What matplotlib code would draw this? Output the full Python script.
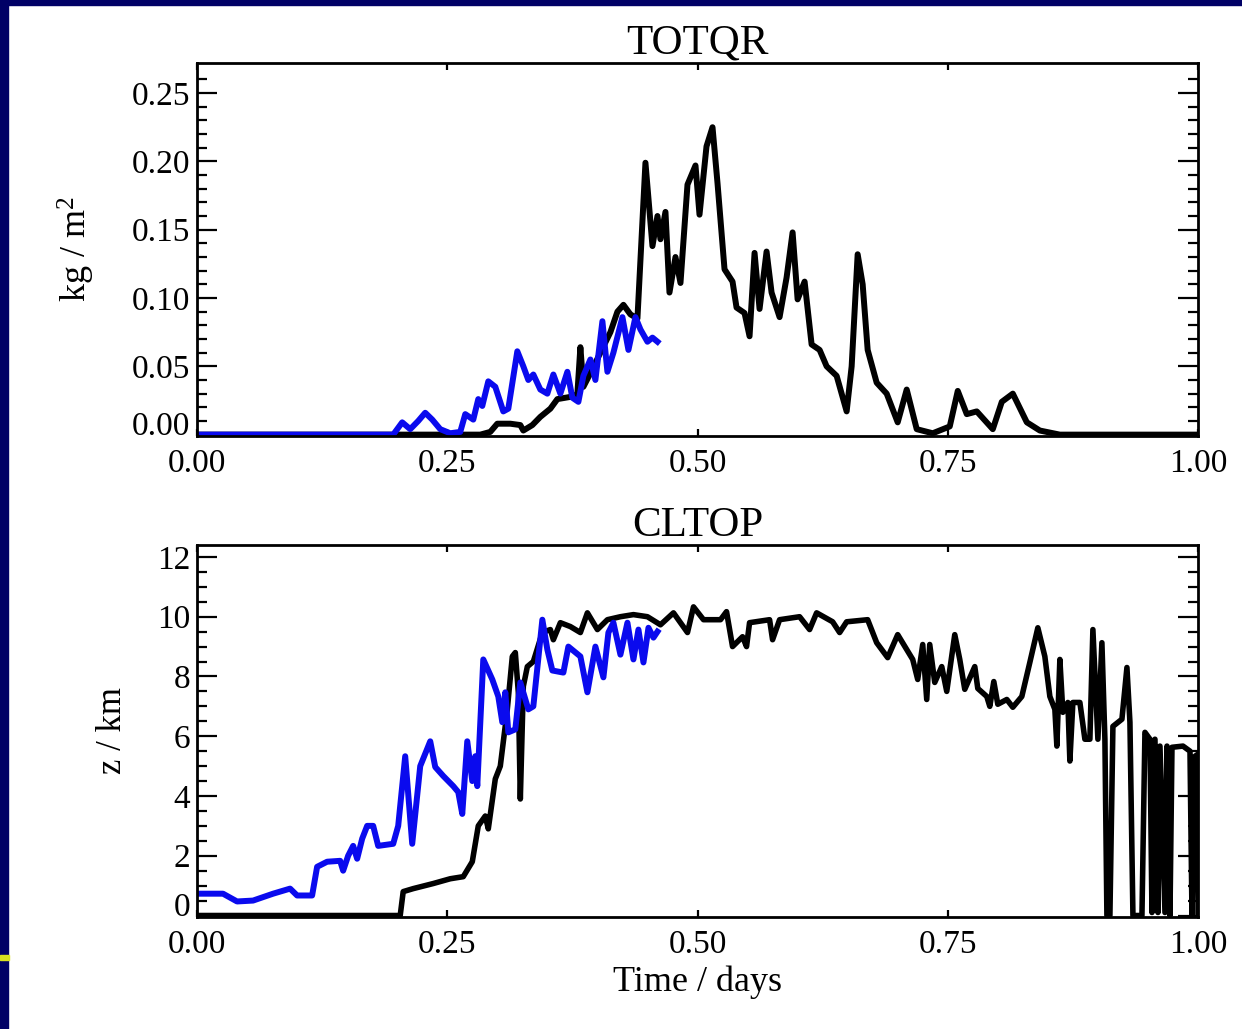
import numpy as np
import matplotlib
matplotlib.use("Agg")
import matplotlib.pyplot as plt
from matplotlib.patches import Rectangle

# time in days
qr_black_t = [0.0, 0.283, 0.293, 0.300, 0.313, 0.323, 0.326, 0.335, 0.343, 0.353, 0.360, 0.368, 0.376,
              0.380, 0.383, 0.386, 0.393, 0.403, 0.413, 0.420, 0.426, 0.433, 0.440, 0.448, 0.455, 0.460,
              0.463, 0.468, 0.472, 0.478, 0.483, 0.490, 0.498, 0.502, 0.509, 0.515, 0.520, 0.527, 0.535,
              0.539, 0.547, 0.552, 0.557, 0.562, 0.569, 0.574, 0.582, 0.589, 0.595, 0.600, 0.607, 0.614,
              0.622, 0.629, 0.639, 0.649, 0.654, 0.660, 0.665, 0.670, 0.679, 0.689, 0.700, 0.709, 0.719,
              0.735, 0.752, 0.760, 0.769, 0.779, 0.795, 0.804, 0.815, 0.829, 0.842, 0.862, 1.0]
qr_black = [0.0, 0.0, 0.002, 0.008, 0.008, 0.007, 0.003, 0.007, 0.013, 0.019, 0.026, 0.027, 0.028,
            0.030, 0.064, 0.035, 0.045, 0.060, 0.075, 0.090, 0.095, 0.088, 0.085, 0.199, 0.138, 0.160,
            0.143, 0.163, 0.104, 0.130, 0.111, 0.183, 0.197, 0.161, 0.211, 0.225, 0.184, 0.121, 0.112,
            0.093, 0.089, 0.072, 0.133, 0.092, 0.134, 0.104, 0.086, 0.115, 0.148, 0.099, 0.112, 0.066,
            0.062, 0.050, 0.043, 0.017, 0.050, 0.132, 0.110, 0.062, 0.038, 0.030, 0.009, 0.033, 0.004,
            0.001, 0.006, 0.032, 0.015, 0.017, 0.004, 0.024, 0.030, 0.009, 0.003, 0.0, 0.0]

qr_blue_t = [0.0, 0.196, 0.205, 0.213, 0.221, 0.228, 0.235, 0.243, 0.253, 0.263, 0.268, 0.276, 0.281,
             0.285, 0.291, 0.298, 0.306, 0.311, 0.320, 0.326, 0.331, 0.336, 0.343, 0.350, 0.356, 0.363,
             0.370, 0.375, 0.381, 0.386, 0.393, 0.398, 0.405, 0.410, 0.416, 0.425, 0.431, 0.438, 0.443,
             0.450, 0.455, 0.460]
qr_blue = [0.0, 0.0, 0.009, 0.004, 0.010, 0.016, 0.011, 0.004, 0.001, 0.002, 0.015, 0.011, 0.026,
           0.021, 0.039, 0.035, 0.017, 0.019, 0.061, 0.050, 0.040, 0.044, 0.033, 0.030, 0.044, 0.030,
           0.046, 0.027, 0.024, 0.043, 0.055, 0.040, 0.083, 0.046, 0.060, 0.086, 0.062, 0.086, 0.077,
           0.068, 0.071, 0.068]

top_black_t = [0.0, 0.203, 0.206, 0.216, 0.236, 0.253, 0.266, 0.275, 0.281, 0.288, 0.291, 0.298, 0.303,
               0.310, 0.315, 0.318, 0.321, 0.323, 0.326, 0.330, 0.336, 0.345, 0.353, 0.356, 0.363, 0.373,
               0.383, 0.390, 0.400, 0.410, 0.423, 0.436, 0.450, 0.463, 0.476, 0.490, 0.496, 0.506, 0.523,
               0.529, 0.535, 0.545, 0.549, 0.552, 0.572, 0.575, 0.582, 0.602, 0.612, 0.619, 0.635, 0.642,
               0.649, 0.670, 0.679, 0.690, 0.700, 0.715, 0.720, 0.725, 0.729, 0.732, 0.737, 0.744, 0.749,
               0.757, 0.762, 0.767, 0.777, 0.780, 0.789, 0.792, 0.796, 0.800, 0.809, 0.815, 0.824, 0.832,
               0.840, 0.847, 0.852, 0.857, 0.859, 0.862, 0.865, 0.870, 0.872, 0.875, 0.882, 0.887, 0.892,
               0.895, 0.900, 0.904, 0.907, 0.909, 0.912, 0.915, 0.924, 0.929, 0.932, 0.935, 0.944, 0.947,
               0.952, 0.954, 0.957, 0.960, 0.962, 0.967, 0.969, 0.972, 0.974, 0.985, 0.992, 0.994, 0.997,
               1.0, 1.0]
top_black = [0.0, 0.0, 0.80, 0.90, 1.07, 1.23, 1.30, 1.80, 3.00, 3.33, 2.90, 4.57, 5.00,
             6.90, 8.67, 8.80, 7.47, 3.90, 7.67, 8.33, 8.50, 9.47, 9.57, 9.23, 9.80, 9.67,
             9.47, 10.13, 9.57, 9.90, 10.00, 10.07, 10.00, 9.73, 10.13, 9.47, 10.33, 9.90, 9.90,
             10.17, 9.00, 9.33, 9.00, 9.80, 9.90, 9.23, 9.90, 10.00, 9.57, 10.13, 9.83, 9.47,
             9.83, 9.90, 9.13, 8.63, 9.40, 8.57, 7.90, 9.07, 7.23, 9.07, 7.80, 8.33, 7.50,
             9.40, 8.57, 7.57, 8.33, 7.60, 7.33, 7.00, 7.83, 7.07, 7.23, 6.97, 7.33, 8.47,
             9.63, 8.67, 7.33, 6.90, 5.67, 8.57, 6.80, 7.13, 5.17, 7.13, 7.13, 5.90, 5.90,
             9.57, 5.90, 9.13, 5.90, 0.0, 0.0, 6.33, 6.57, 8.30, 6.47, 0.0, 0.0, 6.13,
             5.90, 0.1, 5.90, 0.1, 5.67, 0.1, 5.67, 0.0, 5.63, 5.67, 5.50, 0.0, 5.33,
             5.40, 0.0]

top_blue_t = [0.0, 0.026, 0.040, 0.056, 0.076, 0.093, 0.100, 0.115, 0.120, 0.130, 0.143, 0.146, 0.151,
              0.156, 0.160, 0.165, 0.170, 0.176, 0.181, 0.196, 0.201, 0.208, 0.215, 0.223, 0.233, 0.238,
              0.246, 0.256, 0.261, 0.265, 0.270, 0.275, 0.278, 0.280, 0.286, 0.295, 0.301, 0.305, 0.308,
              0.311, 0.318, 0.323, 0.331, 0.336, 0.345, 0.350, 0.355, 0.366, 0.371, 0.383, 0.390, 0.398,
              0.406, 0.411, 0.416, 0.423, 0.430, 0.436, 0.441, 0.446, 0.451, 0.456, 0.460]
top_blue = [0.73, 0.73, 0.47, 0.50, 0.73, 0.90, 0.67, 0.67, 1.63, 1.80, 1.83, 1.50, 2.00,
            2.33, 1.90, 2.57, 3.00, 3.00, 2.33, 2.40, 3.00, 5.33, 2.40, 5.00, 5.83, 4.97,
            4.67, 4.33, 4.13, 3.40, 5.83, 4.50, 5.33, 4.33, 8.57, 7.90, 7.33, 6.47, 7.47,
            6.13, 6.23, 7.80, 6.90, 7.00, 9.90, 8.90, 8.20, 8.13, 9.00, 8.67, 7.47, 9.00,
            7.97, 9.47, 9.80, 8.73, 9.80, 8.57, 9.57, 8.47, 9.63, 9.30, 9.50]

xticks = [0.0, 0.25, 0.5, 0.75, 1.0]
qr_ticks = [0.0, 0.05, 0.10, 0.15, 0.20, 0.25]
top_ticks = [0, 2, 4, 6, 8, 10, 12]

plt.rcParams['font.family'] = ['Liberation Serif', 'DejaVu Serif']
plt.rcParams['mathtext.fontset'] = 'custom'
plt.rcParams['mathtext.rm'] = 'Liberation Serif'
plt.rcParams['mathtext.it'] = 'Liberation Serif:italic'

W, H = 1242, 1029
fig = plt.figure(figsize=(W / 100, H / 100), dpi=100)
fig.patch.set_facecolor('white')

# slide frame
navy = '#000066'
fig.patches.append(Rectangle((0, 1 - 5 / H), 1, 5 / H, transform=fig.transFigure, color=navy, zorder=0))
fig.patches.append(Rectangle((0, 0), 8 / W, 1, transform=fig.transFigure, color=navy, zorder=0))
fig.patches.append(Rectangle((0, 1 - 960 / H), 9 / W, 5 / H, transform=fig.transFigure,
                             color='#d8e020', zorder=1))

ax1 = fig.add_axes([197 / W, 1 - 436 / H, 1001 / W, 373 / H])
ax2 = fig.add_axes([197 / W, 1 - 917 / H, 1001 / W, 372 / H])

blue = '#0a0aee'
ax1.plot(qr_black_t, qr_black, color='black', lw=4.3)
ax1.plot(qr_blue_t, qr_blue, color=blue, lw=4.3)
ax2.plot(top_black_t, top_black, color='black', lw=4.0)
ax2.plot(top_blue_t, top_blue, color=blue, lw=4.3)

ax1.set_xlim(0, 1)
ax1.set_ylim(-0.001, 0.272)
ax2.set_xlim(0, 1)
ax2.set_ylim(-0.05, 12.4)

ax1.set_yticks(qr_ticks)
ax1.set_yticklabels(['%.2f' % v for v in qr_ticks])
ax1.set_yticks(np.arange(0, 0.27, 0.01), minor=True)
ax2.set_yticks(top_ticks)
ax2.set_yticklabels([str(v) for v in top_ticks])
ax2.set_yticks(np.arange(0, 12.4, 0.5), minor=True)

for ax in (ax1, ax2):
    ax.set_xticks(xticks)
    ax.set_xticklabels(['%.2f' % v for v in xticks])
    for s in ax.spines.values():
        s.set_linewidth(2.0)
    ax.tick_params(axis='both', which='both', direction='in', top=True, right=True,
                   labelsize=24, width=1.6, color='black')
    ax.tick_params(axis='y', which='major', length=14.5, pad=5)
    ax.tick_params(axis='y', which='minor', length=7.2)
    ax.tick_params(axis='x', which='major', length=5.3, pad=9)
    # IDL-style: lowest y label raised above the axis
    ax.yaxis.get_major_ticks()[0].label1.set_verticalalignment('baseline')

ax1.set_title('TOTQR', fontsize=31, pad=5)
ax2.set_title('CLTOP', fontsize=31, pad=6)
ax1.set_ylabel('kg / m$^2$', fontsize=26)
ax2.set_ylabel('z / km', fontsize=25)
ax2.set_xlabel('Time / days', fontsize=26, labelpad=4)
ax1.yaxis.set_label_coords(-0.1, 0.5)
ax2.yaxis.set_label_coords(-0.068, 0.5)

fig.savefig('out.png', dpi=100)
